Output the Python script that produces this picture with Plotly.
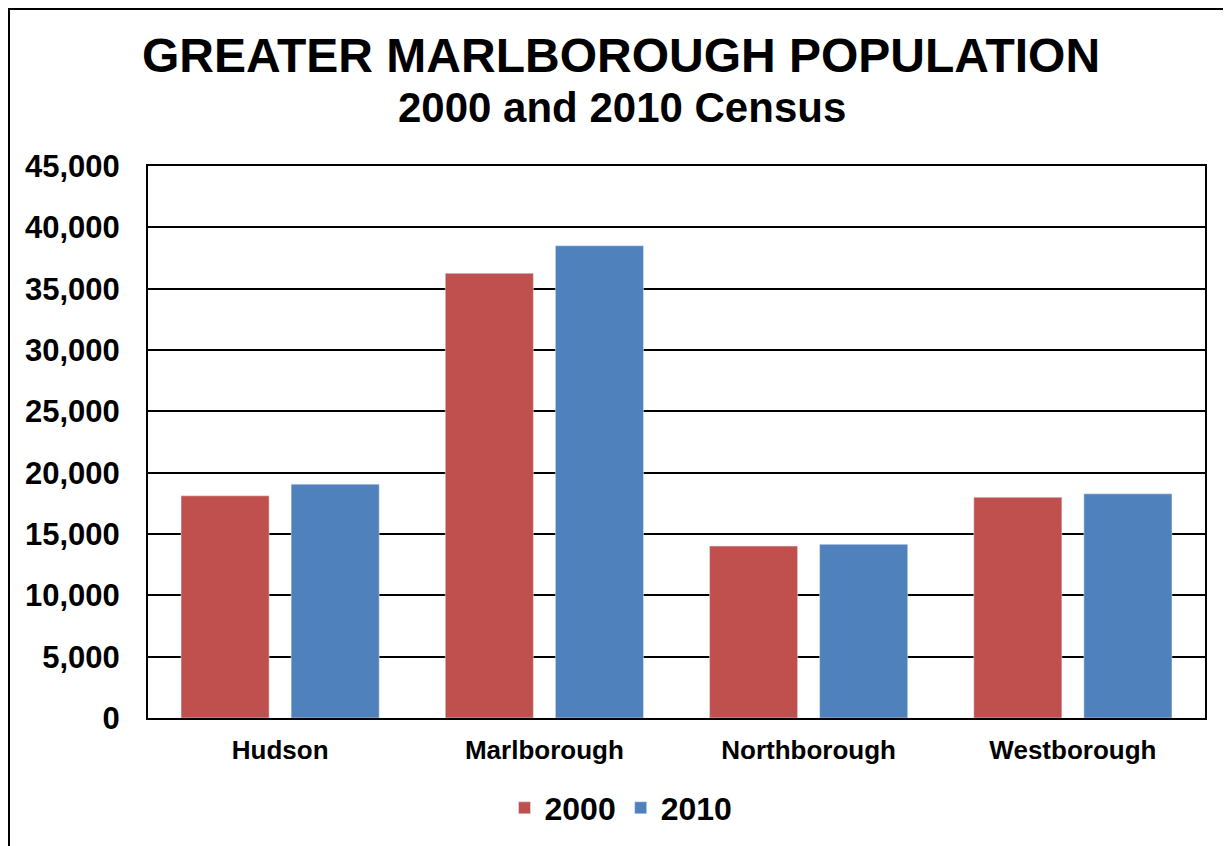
import plotly.graph_objects as go

towns = ["Hudson", "Marlborough", "Northborough", "Westborough"]
pop_2000 = [18113, 36255, 14013, 17997]
pop_2010 = [19063, 38499, 14155, 18272]
series_names = ["2000", "2010"]
y_ticks = [0, 5000, 10000, 15000, 20000, 25000, 30000, 35000, 40000, 45000]

# page has an 8px body margin; the figure is sized to fit the 1231x846 window
OFF = 8
W, H = 1231 - OFF, 846 - OFF
# plot area in page pixels: x 148..1205, y 166..718
L, T = 148 - OFF, 166 - OFF
R, B = W - (1205 - OFF), H - (718 - OFF)
pw, ph = W - L - R, H - T - B

def px_x(x):  # page pixel -> paper
    return (x - OFF - L) / pw

def px_y(y):
    return (H - B - (y - OFF)) / ph

FONT = "Arial, 'Liberation Sans', Helvetica, sans-serif"

fig = go.Figure()
fig.add_trace(go.Bar(x=towns, y=pop_2000, name=series_names[0], marker_color="#C0504D"))
fig.add_trace(go.Bar(x=towns, y=pop_2010, name=series_names[1], marker_color="#4F81BD"))

fig.update_layout(
    width=W, height=H,
    margin=dict(l=L, r=R, t=T, b=B, autoexpand=False),
    paper_bgcolor="white", plot_bgcolor="white",
    font=dict(family=FONT, color="black"),
    barmode="group", bargap=0.1667, bargroupgap=0.2,
    showlegend=True,
    legend=dict(orientation="h", x=px_x(621), xanchor="center", y=px_y(808), yanchor="middle",
                font=dict(size=32, family=FONT, color="black", weight="bold"),
                itemwidth=30, tracegroupgap=0, bgcolor="rgba(0,0,0,0)"),
    title=dict(text="<b>GREATER MARLBOROUGH POPULATION</b>", x=(621 - OFF) / W, xanchor="center",
               xref="container", y=1 - (55 - OFF) / H, yref="container", yanchor="middle",
               font=dict(size=48, family=FONT, color="black")),
    annotations=[dict(text="<b>2000 and 2010 Census</b>", x=px_x(622), xref="paper", xanchor="center",
                      y=px_y(108), yref="paper", yanchor="middle", showarrow=False,
                      font=dict(size=42, family=FONT, color="black"))],
    shapes=[dict(type="rect", xref="paper", yref="paper",
                 x0=px_x(9), x1=px_x(1260), y0=px_y(9), y1=px_y(880),
                 line=dict(color="black", width=2), fillcolor="rgba(0,0,0,0)", layer="above")],
)

fig.update_yaxes(range=[0, 45000], tickvals=y_ticks, tickformat=",", showgrid=True,
                 gridcolor="black", gridwidth=1.5, showline=True, linecolor="black", linewidth=2,
                 mirror=True, ticks="", ticklabelstandoff=20, zeroline=False,
                 tickfont=dict(size=31, family=FONT, color="black", weight="bold"))
fig.update_xaxes(showline=True, linecolor="black", linewidth=2, mirror=True, ticks="",
                 ticklabelstandoff=8,
                 tickfont=dict(size=26, family=FONT, color="black", weight="bold"))

fig.write_html("out.html")
